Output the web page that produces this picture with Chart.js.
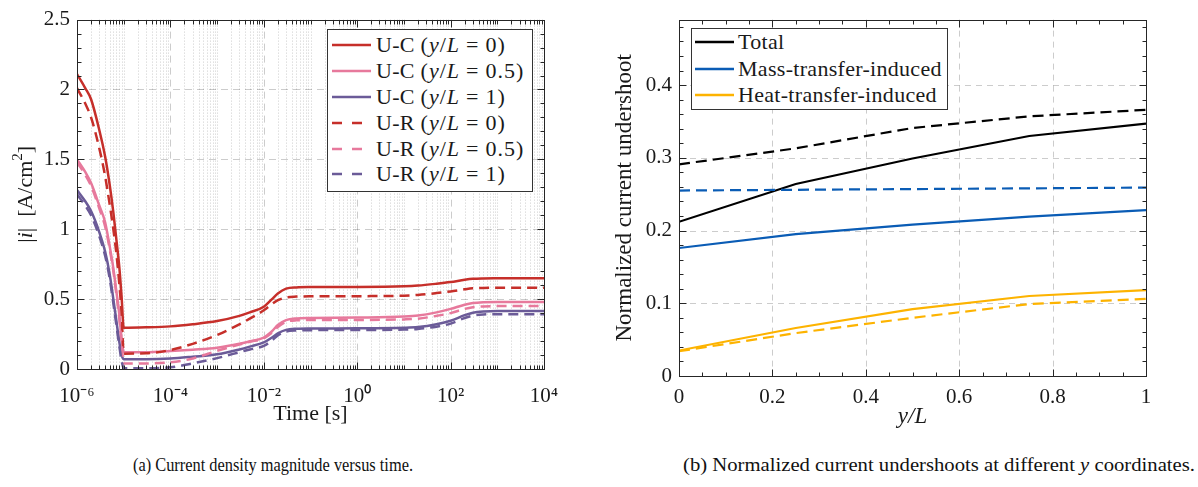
<!DOCTYPE html>
<html><head><meta charset="utf-8">
<script src="https://cdn.jsdelivr.net/npm/chart.js@4.4.0/dist/chart.umd.min.js"></script>
<style>
body{margin:0;background:#fff;width:1198px;height:487px;overflow:hidden;position:relative;font-family:"Liberation Serif","Times New Roman",serif;color:#1a1a1a;}
canvas{position:absolute;top:0;}
#c1{left:0;} #c2{left:600px;}
.legend{position:absolute;background:#fff;border:1px solid #333;box-sizing:border-box;font-size:22px;font-family:"Liberation Serif",serif;}
.row{position:absolute;white-space:nowrap;height:26px;line-height:26px;letter-spacing:0.3px;}
.sample{position:absolute;}
.cap{position:absolute;font-size:19px;line-height:19px;white-space:nowrap;transform-origin:0 0;color:#111;font-family:"Liberation Serif",serif;}
.eq{padding:0 6px;}
.m{letter-spacing:1px;}
</style></head><body>
<canvas id="c1" width="600" height="440" style="width:600px;height:440px"></canvas>
<canvas id="c2" width="598" height="440" style="width:598px;height:440px"></canvas>

<div class="legend" id="leg1" style="left:327px;top:29px;width:206px;height:163px"></div>
<div class="legend" id="leg2" style="left:691px;top:28px;width:257px;height:82px"></div>

<div class="cap" data-w="280" style="left:133px;top:455px">(a) Current density magnitude versus time.</div>
<div class="cap" data-w="512" style="left:683px;top:455px">(b) Normalized current undershoots at different <i>y</i> coordinates.</div>

<script>
// ---------- data: panel (a) ----------
const time = [1e-6,1.5e-6,2e-6,3e-6,4e-6,5e-6,6e-6,7e-6,8e-6,9e-6,1e-5,
              3e-5,1e-4,3e-4,1e-3,3e-3,5e-3,1e-2,1.5e-2,2e-2,3e-2,5e-2,1e-1,1,10,20,50,100,200,300,500,1000,1e4];
const ucY0  = [2.11,2.01,1.93,1.71,1.52,1.32,1.12,0.92,0.74,0.52,0.295,
               0.298,0.305,0.32,0.343,0.38,0.405,0.445,0.50,0.54,0.575,0.584,0.586,0.587,0.592,0.597,0.61,0.622,0.638,0.645,0.648,0.649,0.65];
const ucY05 = [1.50,1.41,1.33,1.17,1.05,0.88,0.72,0.55,0.40,0.22,0.12,
               0.12,0.128,0.138,0.152,0.18,0.198,0.225,0.27,0.315,0.35,0.362,0.365,0.368,0.375,0.382,0.405,0.43,0.46,0.472,0.478,0.48,0.48];
const ucY1  = [1.28,1.20,1.13,0.98,0.84,0.68,0.50,0.34,0.20,0.10,0.07,
               0.07,0.075,0.088,0.105,0.14,0.16,0.19,0.225,0.255,0.28,0.288,0.29,0.291,0.295,0.30,0.32,0.345,0.385,0.403,0.412,0.415,0.415];
const urY0  = [2.01,1.90,1.80,1.58,1.38,1.18,1.00,0.82,0.62,0.40,0.11,
               0.112,0.136,0.18,0.243,0.32,0.36,0.42,0.465,0.492,0.512,0.518,0.52,0.521,0.525,0.53,0.543,0.555,0.57,0.577,0.58,0.581,0.581];
const urY05 = [1.48,1.39,1.31,1.15,1.02,0.86,0.70,0.53,0.37,0.19,0.04,
               0.04,0.048,0.075,0.13,0.175,0.195,0.22,0.26,0.30,0.337,0.348,0.35,0.351,0.355,0.36,0.38,0.40,0.43,0.442,0.448,0.45,0.45];
const urY1  = [1.25,1.17,1.10,0.95,0.81,0.65,0.47,0.31,0.17,0.06,0.005,
               0.005,0.012,0.04,0.078,0.12,0.14,0.165,0.205,0.24,0.268,0.276,0.278,0.279,0.282,0.287,0.303,0.325,0.365,0.382,0.39,0.392,0.392];
const timeTickValues = [1e-6,1e-4,1e-2,1,1e2,1e4];
const timeTickLabels = ['10\u207B\u2076','10\u207B\u2074','10\u207B\u00B2','10\u2070','10\u00B2','10\u2074'];
const currentTickValues = [0,0.5,1,1.5,2,2.5];
const currentTickLabels = ['0','0.5','1','1.5','2','2.5'];

// ---------- data: panel (b) ----------
const yL = [0,0.25,0.5,0.75,1];
const totalC = [0.212,0.264,0.299,0.330,0.347];
const totalR = [0.291,0.313,0.341,0.357,0.366];
const massC  = [0.176,0.195,0.208,0.219,0.228];
const massR  = [0.255,0.256,0.257,0.258,0.259];
const heatC  = [0.035,0.066,0.092,0.110,0.118];
const heatR  = [0.034,0.059,0.080,0.099,0.106];
const yLTickValues = [0,0.2,0.4,0.6,0.8,1];
const yLTickLabels = ['0','0.2','0.4','0.6','0.8','1'];
const underTickValues = [0,0.1,0.2,0.3,0.4];
const underTickLabels = ['0','0.1','0.2','0.3','0.4'];

// ---------- styles ----------
const serif = '"Liberation Serif","Times New Roman",serif';
Chart.defaults.font.family = serif;
Chart.defaults.color = '#1a1a1a';
const RED='#c62f2a', PINK='#e7799c', PURPLE='#6b5b98';
const BLACK='#000000', BLUE='#0a5cb5', YELLOW='#fdb300';

function axesPlugin(cfg){
  return {
    id:'axesDecor',
    beforeDatasetsDraw(chart){
      const {ctx, chartArea:a, scales:{x,y}} = chart;
      ctx.save(); ctx.lineWidth=1;
      const vline=p=>{ctx.beginPath();ctx.moveTo(p,a.top);ctx.lineTo(p,a.bottom);ctx.stroke();};
      const hline=p=>{ctx.beginPath();ctx.moveTo(a.left,p);ctx.lineTo(a.right,p);ctx.stroke();};
      if(cfg.xMinorGrid){
        ctx.strokeStyle=cfg.minorGridColor; ctx.setLineDash([1,2]);
        cfg.xMinor.forEach(v=>vline(Math.round(x.getPixelForValue(v))+0.5));
      }
      ctx.strokeStyle=cfg.gridColor; ctx.setLineDash(cfg.gridDash);
      cfg.xMajor.forEach(v=>{const p=Math.round(x.getPixelForValue(v))+0.5; if(p>a.left+1&&p<a.right-1) vline(p);});
      cfg.yMajor.forEach(v=>{const p=Math.round(y.getPixelForValue(v))+0.5; if(p>a.top+1&&p<a.bottom-1) hline(p);});
      ctx.restore();
    },
    afterDatasetsDraw(chart){
      const {ctx, chartArea:a, scales:{x,y}} = chart;
      ctx.save(); ctx.strokeStyle='#262626'; ctx.lineWidth=1; ctx.setLineDash([]);
      const L=Math.round(a.left)+0.5, R=Math.round(a.right)+0.5, T=Math.round(a.top)+0.5, B=Math.round(a.bottom)+0.5;
      ctx.strokeRect(L,T,R-L,B-T);
      ctx.beginPath();
      const tx=(v,len)=>{const p=Math.round(x.getPixelForValue(v))+0.5; ctx.moveTo(p,B);ctx.lineTo(p,B-len);ctx.moveTo(p,T);ctx.lineTo(p,T+len);};
      const ty=(v,len)=>{const p=Math.round(y.getPixelForValue(v))+0.5; ctx.moveTo(L,p);ctx.lineTo(L+len,p);ctx.moveTo(R,p);ctx.lineTo(R-len,p);};
      cfg.xMajor.forEach(v=>tx(v,cfg.majorLen)); cfg.xMinor.forEach(v=>tx(v,cfg.minorLen));
      cfg.yMajor.forEach(v=>ty(v,cfg.majorLen)); cfg.yMinor.forEach(v=>ty(v,cfg.minorLen));
      ctx.stroke(); ctx.restore();
    }
  };
}
function richTitlePlugin(t){
  return {
    id:'richTitle',
    afterDraw(chart){
      const ctx=chart.ctx, a=chart.chartArea;
      ctx.save();
      const f=p=>(p.it?'italic ':'')+(p.sup?Math.round(t.size*0.7):t.size)+'px '+serif;
      let total=0;
      t.pieces.forEach(p=>{ctx.font=f(p); p.w=ctx.measureText(p.t).width; total+=p.w;});
      ctx.translate(t.x,(a.top+a.bottom)/2); ctx.rotate(-Math.PI/2);
      ctx.textBaseline='middle'; ctx.fillStyle='#1a1a1a';
      let xx=-total/2;
      t.pieces.forEach(p=>{ctx.font=f(p); ctx.fillText(p.t,xx,p.sup?-t.size*0.36:0); xx+=p.w;});
      ctx.restore();
    }
  };
}

// minor tick positions
const timeMinor=[];
for(let k=-6;k<4;k++){ for(let m=1;m<10;m++){ const v=m*Math.pow(10,k); if(!(m===1 && timeTickValues.includes(v))) timeMinor.push(v); } }
const currentMinor=[]; for(let i=1;i<25;i++){ if(i%5) currentMinor.push(i/10); }
const yLMinor=[]; for(let i=1;i<20;i++){ if(i%4) yLMinor.push(i/20); }
const underMinor=[]; for(let i=1;i<25;i++){ if(i%5) underMinor.push(i/50); }

function dsA(label,vals,color,dashed){
  return {label,data:vals.map((v,i)=>({x:time[i],y:v})),borderColor:color,backgroundColor:color,
    borderWidth:2.5,borderDash:dashed?[10,6]:[],pointRadius:0,tension:0.15,cubicInterpolationMode:'monotone',fill:false,borderCapStyle:'butt'};
}
function dsB(label,vals,color,dashed){
  return {label,data:vals.map((v,i)=>({x:yL[i],y:v})),borderColor:color,backgroundColor:color,
    borderWidth:2.2,borderDash:dashed?[11,6]:[],pointRadius:0,tension:0,fill:false,borderCapStyle:'butt'};
}

// ---------- chart (a) ----------
new Chart(document.getElementById('c1'),{
  type:'line',
  data:{datasets:[
    dsA('U-R (y/L = 1)',urY1,PURPLE,true),
    dsA('U-R (y/L = 0.5)',urY05,PINK,true),
    dsA('U-R (y/L = 0)',urY0,RED,true),
    dsA('U-C (y/L = 1)',ucY1,PURPLE,false),
    dsA('U-C (y/L = 0.5)',ucY05,PINK,false),
    dsA('U-C (y/L = 0)',ucY0,RED,false)
  ]},
  options:{
    responsive:false,animation:false,devicePixelRatio:1,
    layout:{padding:{left:0,top:19,right:56,bottom:0}},
    plugins:{legend:{display:false},tooltip:{enabled:false}},
    scales:{
      x:{type:'logarithmic',min:1e-6,max:1e4,
        afterBuildTicks(s){s.ticks=timeTickValues.map(v=>({value:v}));},
        afterFit(s){s.height=71;},
        ticks:{callback:(v,i)=>timeTickLabels[i],font:{size:21},color:'#1a1a1a',padding:15,maxRotation:0,autoSkip:false},
        grid:{display:false,drawTicks:false},border:{display:false},
        title:{display:true,text:'Time [s]',font:{size:22},color:'#1a1a1a',padding:{top:0,bottom:13}}},
      y:{min:0,max:2.5,
        afterBuildTicks(s){s.ticks=currentTickValues.map(v=>({value:v}));},
        afterFit(s){s.width=77;},
        ticks:{callback:(v,i)=>currentTickLabels[i],font:{size:21},color:'#1a1a1a',padding:7,autoSkip:false},
        grid:{display:false,drawTicks:false},border:{display:false}}
    }
  },
  plugins:[
    axesPlugin({xMajor:timeTickValues,xMinor:timeMinor,yMajor:currentTickValues,yMinor:currentMinor,
      xMinorGrid:true,minorGridColor:'rgba(0,0,0,0.2)',gridColor:'rgba(0,0,0,0.2)',gridDash:[7,5],majorLen:7,minorLen:4}),
    richTitlePlugin({x:26,size:22,pieces:[{t:'|'},{t:'i',it:true},{t:'|  [A/cm'},{t:'2',sup:true},{t:']'}]})
  ]
});

// ---------- chart (b) ----------
new Chart(document.getElementById('c2'),{
  type:'line',
  data:{datasets:[
    dsB('Heat-transfer-induced (U-R)',heatR,YELLOW,true),
    dsB('Mass-transfer-induced (U-R)',massR,BLUE,true),
    dsB('Total (U-R)',totalR,BLACK,true),
    dsB('Heat-transfer-induced',heatC,YELLOW,false),
    dsB('Mass-transfer-induced',massC,BLUE,false),
    dsB('Total',totalC,BLACK,false)
  ]},
  options:{
    responsive:false,animation:false,devicePixelRatio:1,
    layout:{padding:{left:0,top:17,right:52,bottom:0}},
    plugins:{legend:{display:false},tooltip:{enabled:false}},
    scales:{
      x:{type:'linear',min:0,max:1,
        afterBuildTicks(s){s.ticks=yLTickValues.map(v=>({value:v}));},
        afterFit(s){s.height=64;},
        ticks:{callback:(v,i)=>yLTickLabels[i],font:{size:21},color:'#1a1a1a',padding:9,maxRotation:0,autoSkip:false},
        grid:{display:false,drawTicks:false},border:{display:false},
        title:{display:true,text:'y/L',font:{size:23,style:'italic'},color:'#1a1a1a',padding:{top:0,bottom:9}}},
      y:{min:0,max:0.49,
        afterBuildTicks(s){s.ticks=underTickValues.map(v=>({value:v}));},
        afterFit(s){s.width=79;},
        ticks:{callback:(v,i)=>underTickLabels[i],font:{size:21},color:'#1a1a1a',padding:7,autoSkip:false},
        grid:{display:false,drawTicks:false},border:{display:false},
        title:{display:true,text:'Normalized current undershoot',font:{size:23},color:'#1a1a1a',padding:{top:11,bottom:0}}}
    }
  },
  plugins:[
    axesPlugin({xMajor:yLTickValues,xMinor:yLMinor,yMajor:underTickValues,yMinor:underMinor,
      xMinorGrid:false,gridColor:'rgba(0,0,0,0.2)',gridDash:[6,5],majorLen:7,minorLen:4})
  ]
});

// ---------- legends ----------
function legendRows(el, rows, sampleLeft, textLeft){
  rows.forEach(r=>{
    const w = r.dashed ? 30 : 39;
    const s = document.createElementNS('http://www.w3.org/2000/svg','svg');
    s.setAttribute('width',w); s.setAttribute('height',6); s.setAttribute('class','sample');
    s.style.left=sampleLeft+'px'; s.style.top=(r.c-3)+'px';
    s.innerHTML = `<line x1="0" y1="3" x2="${w}" y2="3" stroke="${r.color}" stroke-width="2.5" ${r.dashed?'stroke-dasharray="10 10"':''}/>`;
    el.appendChild(s);
    const d=document.createElement('div'); d.className='row';
    d.style.left=textLeft+'px'; d.style.top=(r.c-13)+'px'; d.innerHTML=r.html; el.appendChild(d);
  });
}
const lab=(p,v)=>`${p} <span class="m">(<i>y</i>/<i>L</i><span class="eq">=</span>${v})</span>`;
legendRows(document.getElementById('leg1'),[
  {c:15,color:RED,dashed:false,html:lab('U-C','0')},
  {c:41,color:PINK,dashed:false,html:lab('U-C','0.5')},
  {c:67,color:PURPLE,dashed:false,html:lab('U-C','1')},
  {c:93,color:RED,dashed:true,html:lab('U-R','0')},
  {c:119,color:PINK,dashed:true,html:lab('U-R','0.5')},
  {c:144,color:PURPLE,dashed:true,html:lab('U-R','1')}
],4,48);
legendRows(document.getElementById('leg2'),[
  {c:13,color:BLACK,dashed:false,html:'Total'},
  {c:40,color:BLUE,dashed:false,html:'Mass-transfer-induced'},
  {c:66,color:YELLOW,dashed:false,html:'Heat-transfer-induced'}
],3,46);

// captions: condensed to the reference width
document.querySelectorAll('.cap').forEach(el=>{
  const w=el.getBoundingClientRect().width; el.style.transform='scaleX('+(+el.dataset.w/w)+')';
});
</script>
</body></html>
